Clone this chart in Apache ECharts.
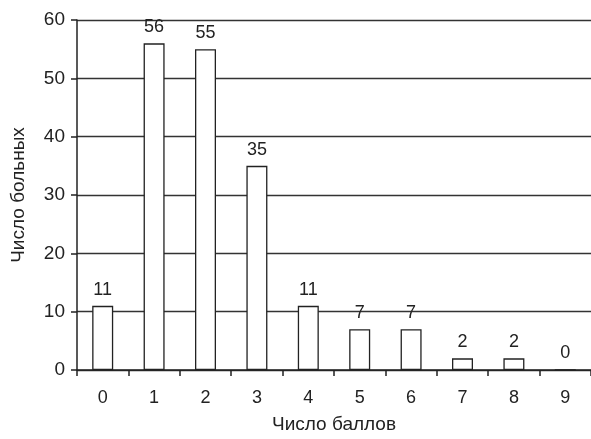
<!DOCTYPE html>
<html><head><meta charset="utf-8">
<script src="https://cdn.jsdelivr.net/npm/echarts@6/dist/echarts.min.js"></script>
<style>html,body{margin:0;padding:0;background:#fff}#c{width:591px;height:439px}</style>
</head><body><div id="c"></div>
<script>
const categories = ['0','1','2','3','4','5','6','7','8','9'];
const values = [11,56,55,35,11,7,7,2,2,0];
const yTicks = [0,10,20,30,40,50,60];
const font = '"Liberation Sans", Arial, sans-serif';
const chart = echarts.init(document.getElementById('c'));
chart.setOption({
  animation:false,
  grid:{left:77,top:20,right:0,bottom:65,containLabel:false},
  xAxis:{type:'category',data:categories,
    name:'Число баллов',nameLocation:'middle',nameGap:45,
    nameTextStyle:{fontFamily:font,fontSize:19,color:'#222'},
    axisLine:{lineStyle:{color:'#222',width:1.5}},
    axisTick:{show:true,length:6,lineStyle:{color:'#222',width:1.5}},
    axisLabel:{fontFamily:font,fontSize:18,color:'#222',margin:19}},
  yAxis:{type:'value',min:yTicks[0],max:yTicks[yTicks.length-1],interval:10,
    name:'Число больных',nameLocation:'middle',nameGap:49,
    nameTextStyle:{fontFamily:font,fontSize:19,color:'#222'},
    axisLine:{show:true,lineStyle:{color:'#222',width:1.5}},
    axisTick:{show:true,length:6,lineStyle:{color:'#222',width:1.5}},
    axisLabel:{fontFamily:font,fontSize:19,color:'#222',margin:12},
    splitLine:{lineStyle:{color:'#333',width:1.3}}},
  series:[{type:'bar',data:values,barWidth:21,
    itemStyle:{color:'#fff',borderColor:'#222',borderWidth:1.3},
    label:{show:true,position:'top',distance:7,fontFamily:font,fontSize:18,color:'#222'}}]
});
</script></body></html>
